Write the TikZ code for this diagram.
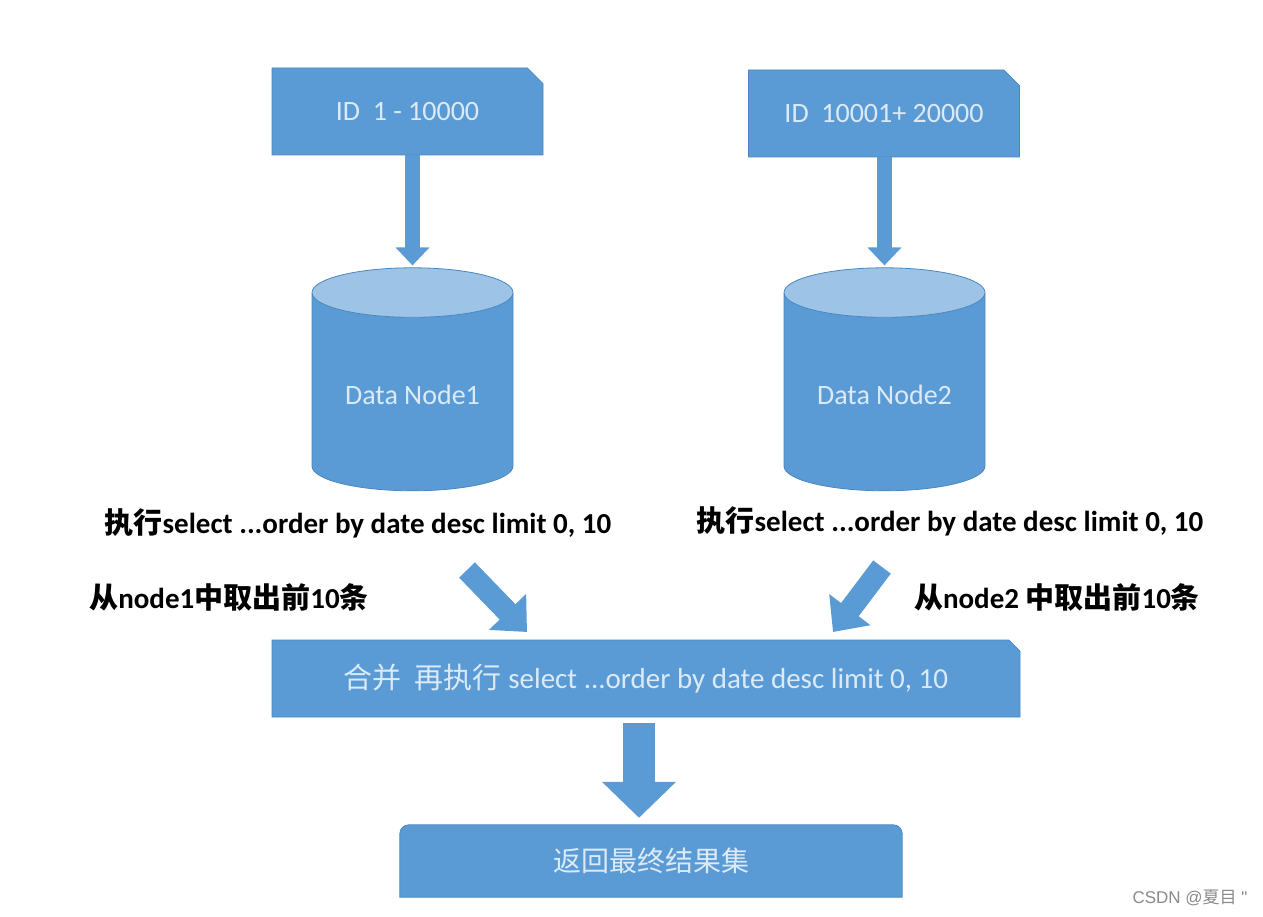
\documentclass[tikz,border=0pt]{standalone}
\usepackage{fontspec}
\setmainfont{Carlito}
\newfontfamily\cjk{Noto Sans CJK SC}
\newfontfamily\markfont{Liberation Sans}
\usepackage{tikz}
\usetikzlibrary{shapes.geometric, shapes.misc, arrows.meta, positioning, calc, backgrounds}
\definecolor{boxblue}{HTML}{5B9BD5}
\definecolor{boxedge}{HTML}{4A86C0}
\definecolor{toplight}{HTML}{9DC3E6}
\definecolor{boxtext}{HTML}{DCEAF7}
\definecolor{marktext}{HTML}{8A8A8A}

\begin{document}
\begin{tikzpicture}[x=1pt, y=-1pt, node distance=0pt]
  \tikzstyle{idbox}=[chamfered rectangle, chamfered rectangle corners=north east,
    chamfered rectangle xsep=15pt, minimum width=271pt, minimum height=87pt,
    fill=boxblue, draw=boxedge, line width=0.8pt, text=boxtext,
    font=\fontsize{28}{30}\selectfont]
  \tikzstyle{dbnode}=[cylinder, shape border rotate=90, aspect=0.35,
    minimum width=201pt, minimum height=223pt, draw=boxedge, line width=0.8pt,
    cylinder uses custom fill, cylinder body fill=boxblue, cylinder end fill=toplight,
    text=boxtext, font=\fontsize{28}{30}\selectfont]
  \tikzstyle{steplabel}=[inner sep=0pt, text=black, font=\fontsize{29}{31}\selectfont\bfseries]
  \tikzstyle{downarr}=[-{Triangle[length=18pt, width=33pt]}, line width=15pt, color=boxblue]
  \tikzstyle{slantarr}=[-{Triangle[length=28pt, width=50pt]}, line width=22pt, color=boxblue]
  \tikzstyle{bigarr}=[-{Triangle[length=36pt, width=72pt]}, line width=32pt, color=boxblue]
  \useasboundingbox (0,0) rectangle (1263,917);
  % id ranges and data nodes
  \node[idbox] (id1) at (407.5,111.5) {ID\ \ 1 - 10000};
  \node[idbox] (id2) at (884,113.5) {ID\ \ 10001+ 20000};
  \node[dbnode, below=112pt of id1, xshift=5pt] (dn1) {Data Node1};
  \node[dbnode, below=110pt of id2, xshift=0.5pt] (dn2) {Data Node2};
  \draw[downarr, shorten >=2pt] (dn1.north |- id1.south) -- (dn1.north);
  \draw[downarr, shorten >=2pt] (dn2.north |- id2.south) -- (dn2.north);
  % labels
  \node[steplabel] (ex1) at (358,523) {{\cjk 执行}select ...order by date desc limit 0, 10};
  \node[steplabel] (ex2) at (950,521) {{\cjk 执行}select ...order by date desc limit 0, 10};
  \node[steplabel] (tk1) at (229,597) {{\cjk 从}node1{\cjk 中取出前}10{\cjk 条}};
  \node[steplabel] (tk2) at (1057,597) {{\cjk 从}node2 {\cjk 中取出前}10{\cjk 条}};
  % merge and result
  \node[idbox, chamfered rectangle xsep=8pt, minimum width=748pt, minimum height=77pt,
    font=\fontsize{29}{31}\selectfont]
    (merge) at (646,678.5) {{\cjk 合并\ \ 再执行} select ...order by date desc limit 0, 10};
  \node[inner sep=0pt, minimum width=502pt, minimum height=72pt, text=boxtext,
    font=\fontsize{28}{30}\selectfont] (final) at (651,861) {\cjk 返回最终结果集};
  \begin{scope}[on background layer]
    \filldraw[fill=boxblue, draw=boxedge, line width=0.8pt] (final.south west)
      -- ([yshift=-9pt]final.north west) arc[start angle=180, end angle=90, radius=9pt]
      -- ([xshift=-9pt]final.north east) arc[start angle=90, end angle=0, radius=9pt]
      -- (final.south east) -- cycle;
  \end{scope}
  \coordinate (t1) at (467,570);
  \coordinate (h1) at (527,632);
  \coordinate (t2) at (882,567);
  \coordinate (h2) at (833,632);
  \draw[slantarr] (t1) -- (h1);
  \draw[slantarr] (t2) -- (h2);
  \draw[bigarr, shorten <=6pt, shorten >=7pt] ([xshift=-7pt]merge.south)
    -- ([xshift=-7pt]merge.south |- final.north);
  \node[text=marktext, font=\markfont\fontsize{17}{19}\selectfont] (mark) at (1190,898)
    {CSDN @{\cjk 夏目} "};
\end{tikzpicture}
\end{document}
